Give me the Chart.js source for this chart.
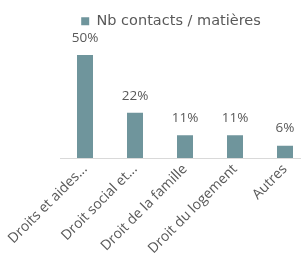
<!DOCTYPE html>
<html>
<head>
<meta charset="utf-8">
<script src="https://cdn.jsdelivr.net/npm/chart.js@4/dist/chart.umd.min.js"></script>
<style>
  html, body { margin: 0; padding: 0; background: #fff; overflow: hidden; }
  #wrap { width: 315px; height: 269px; }
</style>
</head>
<body>
<div id="wrap"><canvas id="chart"></canvas></div>
<script>
const categories = ['Droits et aides...', 'Droit social et...', 'Droit de la famille', 'Droit du logement', 'Autres'];
const values = [50, 22, 11, 11, 6];
const seriesName = 'Nb contacts / matières';
const barColor = '#6f959c';
const textColor = '#595959';

// draws the "50%" style labels above each bar
const valueLabels = {
  id: 'valueLabels',
  afterDatasetsDraw(chart) {
    const ctx = chart.ctx;
    const meta = chart.getDatasetMeta(0);
    ctx.save();
    ctx.font = '13.5px "Open Sans"';
    ctx.fillStyle = textColor;
    ctx.textAlign = 'center';
    ctx.textBaseline = 'middle';
    meta.data.forEach((bar, i) => {
      ctx.fillText(values[i] + '%', bar.x, bar.y - 17);
    });
    ctx.restore();
  }
};

new Chart(document.getElementById('chart'), {
  type: 'bar',
  data: {
    labels: categories,
    datasets: [{
      label: seriesName,
      data: values,
      backgroundColor: barColor,
      borderWidth: 0,
      barPercentage: 0.32,
      categoryPercentage: 1
    }]
  },
  options: {
    responsive: true,
    maintainAspectRatio: false,
    animation: false,
    layout: { padding: { left: 32, right: 5, top: 8 } },
    plugins: {
      legend: {
        position: 'top',
        labels: {
          boxWidth: 8,
          boxHeight: 8,
          color: textColor,
          font: { family: 'DejaVu Sans', size: 14.5 },
          padding: 6
        }
      },
      tooltip: { enabled: false }
    },
    scales: {
      x: {
        grid: { display: false, drawTicks: false },
        border: { display: true, color: '#d9d9d9', width: 1 },
        ticks: {
          color: textColor,
          font: { family: 'Open Sans', size: 14 },
          minRotation: 45,
          maxRotation: 45,
          padding: 3,
          autoSkip: false
        },
        afterFit(scale) { scale.height = 111; }
      },
      y: {
        display: true,
        min: 0,
        max: 58,
        grid: { display: false, drawTicks: false },
        border: { display: false },
        ticks: { display: false },
        afterFit(scale) { scale.width = 28; }
      }
    }
  },
  plugins: [valueLabels]
});
</script>
</body>
</html>
